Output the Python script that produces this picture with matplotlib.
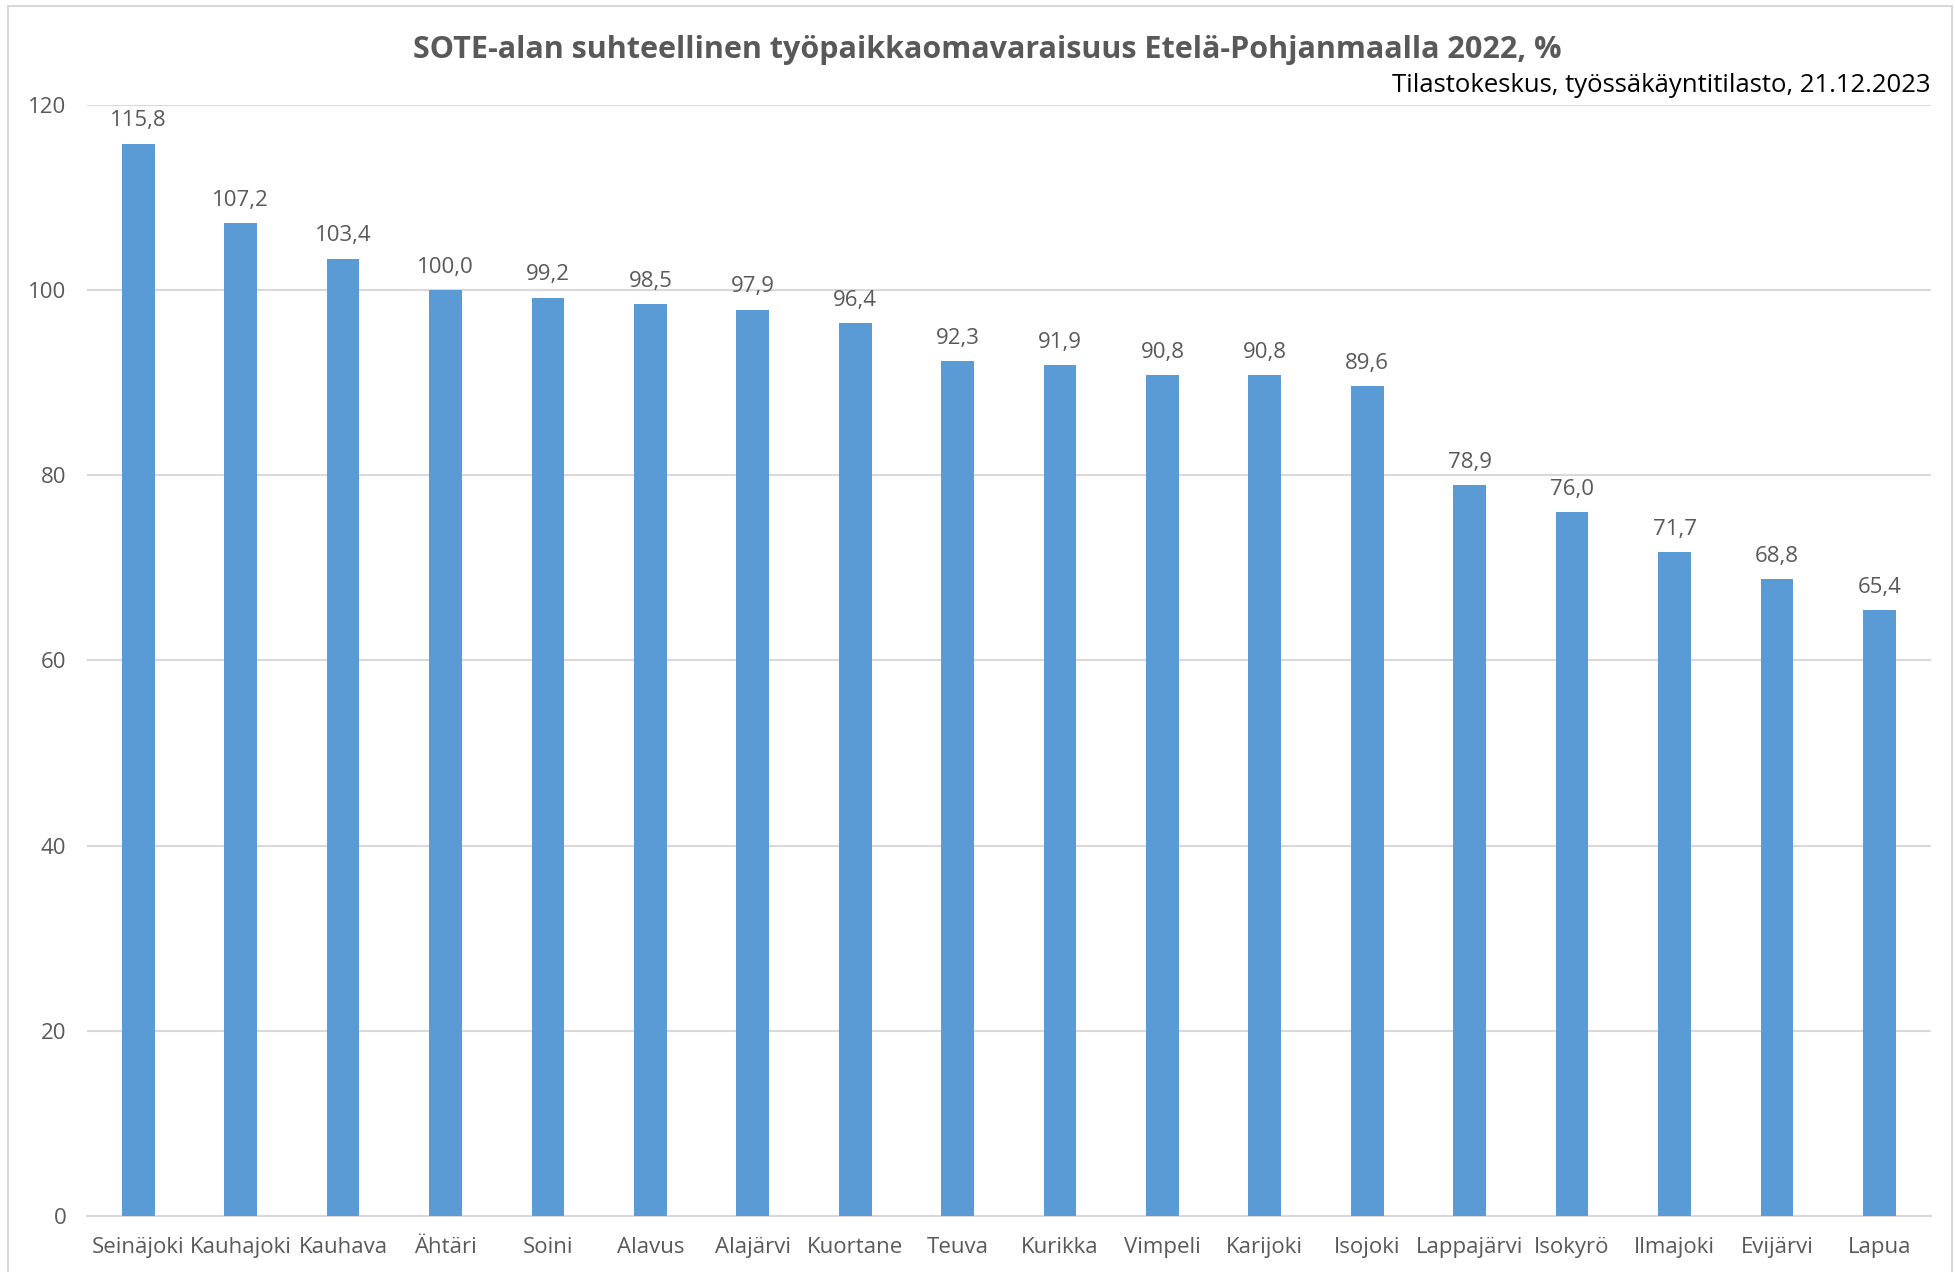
import matplotlib
matplotlib.use('Agg')
import numpy as np
from matplotlib import pyplot as plt
from matplotlib.patches import Rectangle

kunnat = ['Seinäjoki', 'Kauhajoki', 'Kauhava', 'Ähtäri', 'Soini', 'Alavus', 'Alajärvi',
          'Kuortane', 'Teuva', 'Kurikka', 'Vimpeli', 'Karijoki', 'Isojoki', 'Lappajärvi',
          'Isokyrö', 'Ilmajoki', 'Evijärvi', 'Lapua']
omavaraisuus = [115.8, 107.2, 103.4, 100.0, 99.2, 98.5, 97.9, 96.4, 92.3, 91.9, 90.8, 90.8,
                89.6, 78.9, 76.0, 71.7, 68.8, 65.4]
y_ticks = [0, 20, 40, 60, 80, 100, 120]

title = 'SOTE-alan suhteellinen työpaikkaomavaraisuus Etelä-Pohjanmaalla 2022, %'
source = 'Tilastokeskus, työssäkäyntitilasto, 21.12.2023'

plt.rcParams['font.family'] = ['Open Sans', 'DejaVu Sans']
text_color = '#595959'
bar_color = '#5B9BD5'

fig = plt.figure(figsize=(19.56, 12.72), dpi=100)
ax = fig.add_axes([0.0445, 0.044, 0.9425, 0.8735])

x = np.arange(len(kunnat))
bars = ax.bar(x, omavaraisuus, width=0.32, color=bar_color, zorder=3)

for rect, v in zip(bars, omavaraisuus):
    ax.annotate(f'{v:.1f}'.replace('.', ','), (rect.get_x() + rect.get_width() / 2, v),
                xytext=(0, 9), textcoords='offset points', ha='center', va='bottom',
                fontsize=16, color=text_color)

ax.set_xlim(-0.5, len(kunnat) - 0.5)
ax.set_ylim(0, 120)
ax.set_yticks(y_ticks)
ax.set_xticks(x)
ax.set_xticklabels(kunnat)
ax.tick_params(axis='both', length=0, labelsize=16, colors=text_color)
ax.tick_params(axis='x', pad=15)
ax.tick_params(axis='y', pad=15)
ax.yaxis.grid(True, color='#D9D9D9', linewidth=1.5, zorder=0)
for side in ['top', 'right', 'left']:
    ax.spines[side].set_visible(False)
ax.spines['bottom'].set_color('#D9D9D9')
ax.spines['bottom'].set_linewidth(1.5)

fig.text(0.505, 0.961, title, ha='center', va='center', fontsize=22, fontweight='bold',
         color=text_color)
fig.text(0.987, 0.933, source, ha='right', va='center', fontsize=18.5, color='black')

fig.patches.append(Rectangle((0.004, -0.01), 0.994, 1.005, transform=fig.transFigure,
                             fill=False, edgecolor='#D9D9D9', linewidth=1.5))

fig.savefig('out.png', dpi=100)
